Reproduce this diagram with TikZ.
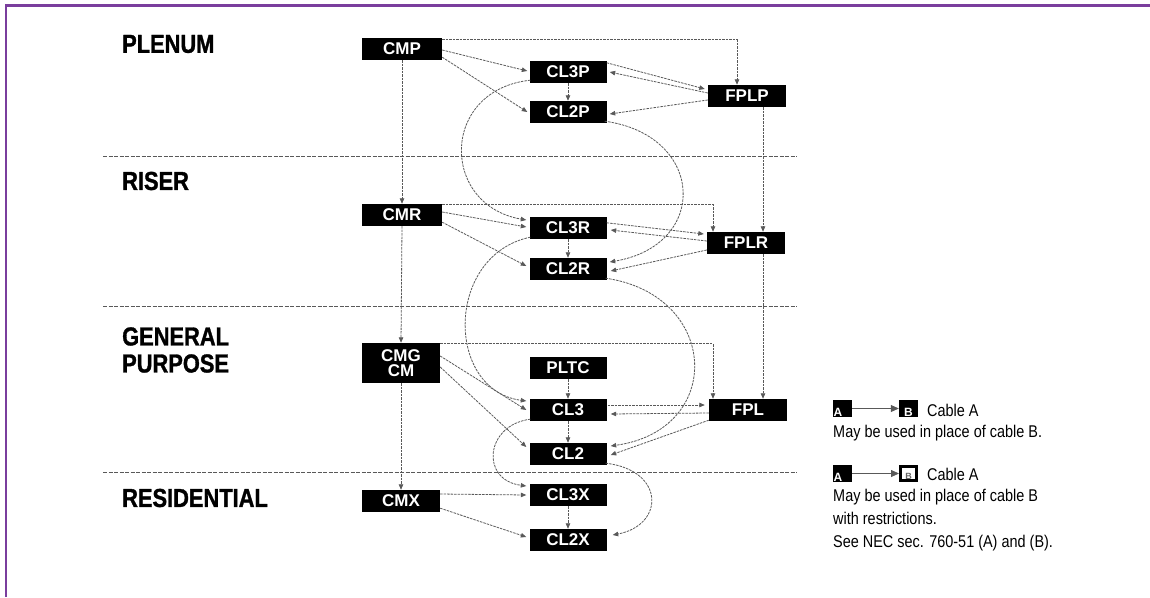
\documentclass[tikz,border=0pt]{standalone}
\usepackage{fontspec}
\setmainfont{Liberation Sans}
\newfontfamily\headfont[FakeStretch=0.84, BoldFeatures={FakeBold=1.2}]{Liberation Sans}
\newfontfamily\narrowfont[FakeStretch=0.85]{Liberation Sans}
\usetikzlibrary{arrows.meta,calc}
\definecolor{framepurple}{HTML}{7A3E9D}
\definecolor{linkgray}{gray}{0.35}

\tikzset{
  cable/.style={fill=black, minimum width=77pt, minimum height=22pt, inner sep=0pt,
    text=white, font=\bfseries\fontsize{17}{15}\selectfont},
  wide/.style={cable, minimum width=80pt},
  band/.style={anchor=west, inner sep=0pt, font=\headfont\bfseries\fontsize{26}{27}\selectfont, align=left},
  link/.style={draw=linkgray, line width=0.8pt, dash pattern=on 2.5pt off 1pt,
    -{Triangle[length=5.5pt,width=4.5pt]}},
  divider/.style={draw=linkgray, line width=0.8pt, dash pattern=on 4pt off 1.5pt},
  note/.style={anchor=west, inner sep=0pt, font=\narrowfont\fontsize{17}{17}\selectfont},
  keybox/.style={fill=black, minimum width=19pt, minimum height=17pt, inner sep=0pt},
  hollowbox/.style={draw=black, fill=white, line width=3pt, minimum width=16pt, minimum height=14pt, inner sep=0pt},
  keyletter/.style={inner sep=0.6pt, font=\bfseries\fontsize{12}{12}\selectfont},
  keyarrow/.style={draw=linkgray, line width=0.8pt, -{Triangle[length=8pt,width=7pt]}},
}

\begin{document}
\begin{tikzpicture}[x=1pt,y=-1pt]
\useasboundingbox (0,0) rectangle (1150,597);

% frame
\draw[framepurple, line width=2.4pt] (6.2,597) -- (6.2,5.3) -- (1150,5.3);

% zone dividers
\draw[divider] (103,156) -- (797,156);
\draw[divider] (103,306) -- (797,306);
\draw[divider] (103,472) -- (797,472);

% zone titles
\node[band] (tPlenum) at (122,44) {PLENUM};
\node[band] (tRiser) at (122,181) {RISER};
\node[band] (tGeneral) at (122,350) {GENERAL\\PURPOSE};
\node[band] (tResid) at (122,498) {RESIDENTIAL};

% cable types
\node[wide] (CMP) at (402,49) {CMP};
\node[cable] (CL3P) at (568,72) {CL3P};
\node[cable] (CL2P) at (568,112) {CL2P};
\node[cable, minimum width=78pt] (FPLP) at (747,96) {FPLP};

\node[wide] (CMR) at (402,215) {CMR};
\node[cable] (CL3R) at (568,228) {CL3R};
\node[cable] (CL2R) at (568,269) {CL2R};
\node[cable, minimum width=78pt] (FPLR) at (746,243) {FPLR};

\node[wide, minimum width=78pt, minimum height=40pt, align=center] (CMG) at (401,363) {CMG\\CM};
\node[cable] (PLTC) at (568,368) {PLTC};
\node[cable] (CL3) at (568,410) {CL3};
\node[cable, minimum width=78pt] (FPL) at (748,410) {FPL};
\node[cable] (CL2) at (568,454) {CL2};

\node[wide, minimum width=78pt] (CMX) at (401,501) {CMX};
\node[cable] (CL3X) at (568,495) {CL3X};
\node[cable] (CL2X) at (568,540) {CL2X};

% plenum level
\draw[link] ($(CMP.north east)+(0,2)$) -| ($(FPLP.north)+(-10,0)$);
\draw[link] ($(CMP.east)+(0,1)$) -- ($(CL3P.west)+(-2,-1)$);
\draw[link] ($(CMP.south east)+(0,-3)$) -- ($(CL2P.west)+(-2,0)$);
\draw[link] (CL3P) -- (CL2P);
\draw[link] ($(CL3P.north east)+(0,2)$) -- ($(FPLP.west)+(-3,-7)$);
\draw[link] ($(FPLP.west)+(0,-3)$) -- ($(CL3P.east)+(3,0)$);
\draw[link] ($(FPLP.west)+(0,4)$) -- ($(CL2P.east)+(3,2)$);
\draw[link] (CMP.south) -- (CMR.north);
\draw[link] ($(FPLP.south)+(16,0)$) -- ($(FPLR.north)+(17,0)$);
\draw[link] ($(CL3P.south west)+(1,-3)$) .. controls (440,90) and (440,205) .. ($(CL3R.west)+(-3,-8)$);
\draw[link] ($(CL2P.south east)+(-2,-2)$) .. controls (705,135) and (710,245) .. ($(CL2R.east)+(3,-7)$);

% riser level
\draw[link] ($(CMR.north east)+(0,1)$) -| ($(FPLR.north)+(-33,0)$);
\draw[link] ($(CMR.east)+(0,-3)$) -- ($(CL3R.west)+(-3,-1)$);
\draw[link] ($(CMR.south east)+(0,-4)$) -- ($(CL2R.west)+(-3,-3)$);
\draw[link] (CL3R) -- (CL2R);
\draw[link] ($(CL3R.north east)+(0,6)$) -- ($(FPLR.west)+(-3,-9)$);
\draw[link] ($(FPLR.west)+(0,-2)$) -- ($(CL3R.east)+(4,2)$);
\draw[link] ($(FPLR.west)+(0,7)$) -- ($(CL2R.east)+(4,2)$);
\draw[link] (CMR.south) -- (CMG.north);
\draw[link] ($(FPLR.south)+(17,0)$) -- ($(FPL.north)+(15,0)$);
\draw[link] ($(CL3R.south west)+(1,-2)$) .. controls (445,255) and (445,390) .. ($(CL3.west)+(-3,-9)$);
\draw[link] ($(CL2R.south east)+(-1,-2)$) .. controls (720,295) and (725,430) .. ($(CL2.east)+(4,-8)$);

% general purpose level
\draw[link] ($(CMG.north east)+(0,1)$) -| ($(FPL.north)+(-35,0)$);
\draw[link] ($(CMG.east)+(0,-7)$) -- ($(CL3.west)+(-3,0)$);
\draw[link] ($(CMG.east)+(0,4)$) -- ($(CL2.west)+(-3,-7)$);
\draw[link] (PLTC) -- (CL3);
\draw[link] (CL3) -- (CL2);
\draw[link] ($(CL3.east)+(1,-5)$) -- ($(FPL.west)+(-4,-5)$);
\draw[link] ($(FPL.west)+(0,3)$) -- ($(CL3.east)+(4,4)$);
\draw[link] ($(FPL.south west)+(0,-1)$) -- ($(CL2.east)+(4,1)$);
\draw[link] (CMG.south) -- (CMX.north);
\draw[link] ($(CL3.south west)+(1,-2)$) .. controls (485,425) and (480,480) .. ($(CL3X.west)+(-3,-9)$);
\draw[link] ($(CL2.south east)+(-1,-2)$) .. controls (665,470) and (665,525) .. ($(CL2X.east)+(6,-5)$);

% residential level
\draw[link] ($(CMX.east)+(0,-7)$) -- ($(CL3X.west)+(-3,0)$);
\draw[link] ($(CMX.south east)+(0,-4)$) -- ($(CL2X.west)+(-3,-3)$);
\draw[link] (CL3X) -- (CL2X);

% key
\node[keybox] (kA1) at (842.5,408.5) {};
\node[keyletter, text=white, anchor=south west] (kA1t) at (kA1.south west) {A};
\node[keybox] (kB1) at (908.5,408.5) {};
\node[keyletter, text=white, anchor=south] (kB1t) at (kB1.south) {B};
\draw[keyarrow] (kA1) -- (kB1);
\node[note] (kCab1) at (927,410) {Cable A};
\node[note] (kTxt1) at (833,433) {May be used in place of cable B.};

\node[keybox] (kA2) at (842.5,473.5) {};
\node[keyletter, text=white, anchor=south west] (kA2t) at (kA2.south west) {A};
\node[hollowbox] (kB2) at (908.5,473.5) {};
\node[keyletter, text=black!60, anchor=south, font=\bfseries\fontsize{9}{9}\selectfont] (kB2t) at ($(kB2.south)+(0,-1.5)$) {B};
\draw[keyarrow] (kA2) -- (kB2);
\node[note] (kCab2) at (927,474) {Cable A};
\node[note, align=left, anchor=north west, font=\narrowfont\fontsize{17}{23}\selectfont] (kTxt2) at (833,489)
  {May be used in place of cable B\\with restrictions.\\See NEC sec. 760-51 (A) and (B).};
\end{tikzpicture}
\end{document}
